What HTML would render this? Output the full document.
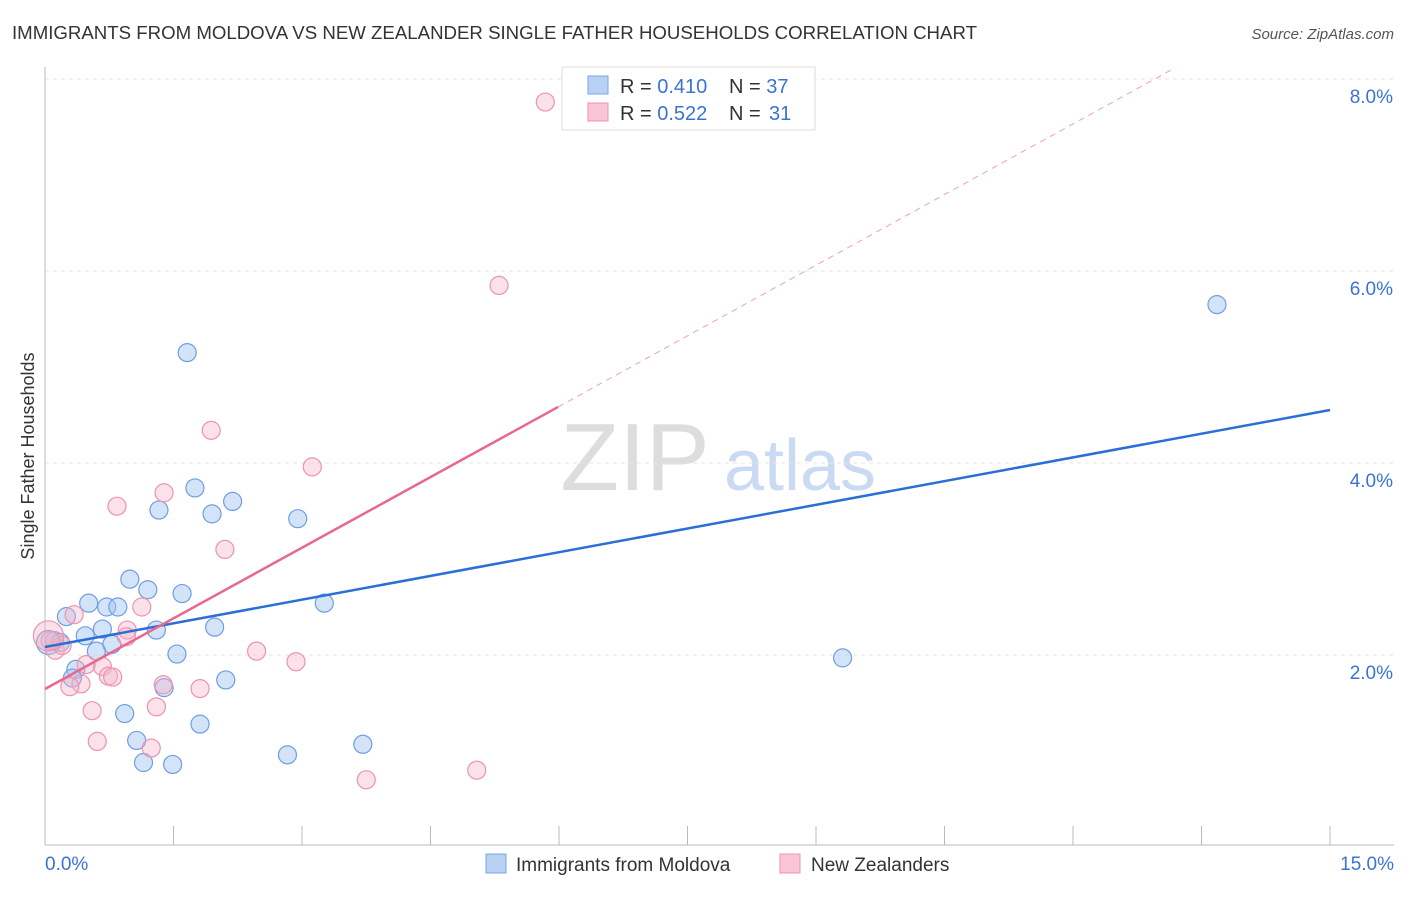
<!DOCTYPE html>
<html><head><meta charset="utf-8"><style>
body{margin:0;background:#fff;font-family:"Liberation Sans",sans-serif;}
svg text{font-family:"Liberation Sans",sans-serif;}
</style></head><body>
<svg width="1406" height="892">
<text x="12" y="39" font-size="18.65" fill="#333">IMMIGRANTS FROM MOLDOVA VS NEW ZEALANDER SINGLE FATHER HOUSEHOLDS CORRELATION CHART</text>
<text x="1394" y="39" font-size="15" fill="#555" text-anchor="end" font-style="italic">Source: ZipAtlas.com</text>
<text x="635" y="490" font-size="96" fill="#ddd" text-anchor="middle" font-family="Liberation Serif">ZIP</text>
<text x="800" y="490" font-size="72" fill="#c9daf2" text-anchor="middle">atlas</text>
<g id="grid"></g>
<g id="axes"></g>
<g id="points"></g>
<g id="lines"></g>
<text transform="translate(34,456) rotate(-90)" font-size="18" fill="#333" text-anchor="middle">Single Father Households</text>
<g>
<rect x="562" y="67" width="253" height="63" fill="#fff" stroke="#ddd"/>
<rect x="588" y="76" width="20" height="18" fill="#b9d2f3" stroke="#7aa6e6"/>
<rect x="588" y="103" width="20" height="18" fill="#f9c6d5" stroke="#ee93ae"/>
<text x="620" y="93" font-size="20" fill="#333">R = <tspan fill="#3a73d6">0.410</tspan></text>
<text x="729" y="93" font-size="20" fill="#333">N = <tspan fill="#3a73d6">37</tspan></text>
<text x="620" y="120" font-size="20" fill="#333">R = <tspan fill="#3a73d6">0.522</tspan></text>
<text x="729" y="120" font-size="20" fill="#333">N = <tspan fill="#3a73d6" x="769">31</tspan></text>
</g>
<g>
<rect x="486" y="854" width="20" height="19" fill="#b9d2f3" stroke="#7aa6e6"/>
<text x="516" y="871" font-size="19" fill="#333">Immigrants from Moldova</text>
<rect x="780" y="854" width="20" height="19" fill="#f9c6d5" stroke="#ee93ae"/>
<text x="811" y="871" font-size="19" fill="#333">New Zealanders</text>
</g>
</svg>
<script>
const blueX=[1.66,1.75,1.33,1.95,2.95,2.19,0.99,1.2,1.6,0.51,0.72,0.85,3.26,0.25,0.67,1.3,0.47,1.98,0.11,0.18,0.78,0.6,1.54,0.36,0.32,2.11,1.39,0.93,1.81,1.07,3.71,2.83,1.15,1.49,9.31,13.68,0.04];
const blueY=[5.15,3.74,3.51,3.47,3.42,3.6,2.79,2.68,2.64,2.54,2.5,2.5,2.54,2.4,2.27,2.26,2.2,2.29,2.15,2.13,2.11,2.04,2.01,1.85,1.76,1.74,1.66,1.39,1.28,1.11,1.07,0.96,0.88,0.86,1.97,5.65,2.13];
const pinkX=[5.84,5.3,1.94,3.12,1.39,0.84,2.1,1.13,0.34,0.96,0.95,2.47,2.93,0.67,0.48,0.74,0.79,0.42,0.29,1.38,1.81,0.55,1.3,0.61,1.24,5.04,3.75,0.12,0.2,0.06,0.04];
const pinkY=[7.76,5.85,4.34,3.96,3.69,3.55,3.1,2.5,2.42,2.26,2.19,2.04,1.93,1.88,1.9,1.78,1.77,1.7,1.67,1.69,1.65,1.42,1.46,1.1,1.03,0.8,0.7,2.05,2.1,2.15,2.2];
const yTicks=[2,4,6,8];
const yTickLabels=["2.0%","4.0%","6.0%","8.0%"];
const xTickLabels=["0.0%","15.0%"];
const blueLine=[2.083,4.552];
const pinkLine=[1.646,0.4905,5.99];
const X=v=>45+v*85.67, Y=v=>847-v*96;
const NS="http://www.w3.org/2000/svg";
function mk(tag,parent,attrs){const e=document.createElementNS(NS,tag);for(const k in attrs)e.setAttribute(k,attrs[k]);document.getElementById(parent).appendChild(e);return e;}
yTicks.forEach((t,i)=>{
 const l=mk('line','grid',{x1:45,x2:1394,y1:Y(t),y2:Y(t),stroke:'#e6e6e6','stroke-dasharray':'4,4'});
 
 
 const tx=mk('text','grid',{x:1393,y:Y(t)+24,'font-size':19,fill:'#3a73d6','text-anchor':'end'});
 tx.textContent=yTickLabels[i];
 
 
});
const ax=mk('line','axes',{x1:45,x2:1394,y1:845,y2:845,stroke:'#bbb'});


const ay=mk('line','axes',{x1:45,x2:45,y1:67,y2:845,stroke:'#bbb'});


for(let i=0;i<=10;i++){const x=45+i*128.5;const t=mk('line','axes',{x1:x,x2:x,y1:826,y2:845,stroke:'#bbb'});
 
 }
[[0,'start',45],[15,'end',1394]].forEach((d,i)=>{const t=mk('text','axes',{x:d[2],y:870,'font-size':19,fill:'#3a73d6','text-anchor':d[1]});t.textContent=xTickLabels[i];
 
 });
blueX.forEach((x,i)=>{const c=mk('circle','points',{cx:X(x),cy:Y(blueY[i]),r:i==36?12:9,fill:'rgba(160,195,240,0.45)',stroke:'#6f9de0','stroke-width':1.2});
 
 });
pinkX.forEach((x,i)=>{const c=mk('circle','points',{cx:X(x),cy:Y(pinkY[i]),r:i==30?15:9,fill:'rgba(246,180,200,0.4)',stroke:'#ee93ae','stroke-width':1.2});
 
 });
const bl=mk('line','lines',{x1:X(0),y1:Y(blueLine[0]),x2:X(15),y2:Y(blueLine[1]),stroke:'#2a6fd6','stroke-width':2.5});


const pe=pinkLine[2];
const pl=mk('line','lines',{x1:X(0),y1:Y(pinkLine[0]),x2:X(pe),y2:Y(pinkLine[0]+pinkLine[1]*pe),stroke:'#e8688f','stroke-width':2.5});


const xe=(8.1-pinkLine[0])/pinkLine[1];
const pd=mk('line','lines',{x1:X(pe),y1:Y(pinkLine[0]+pinkLine[1]*pe),x2:X(xe),y2:Y(8.1),stroke:'#eea0b8','stroke-width':1,'stroke-dasharray':'6,5'});


</script>
</body></html>
